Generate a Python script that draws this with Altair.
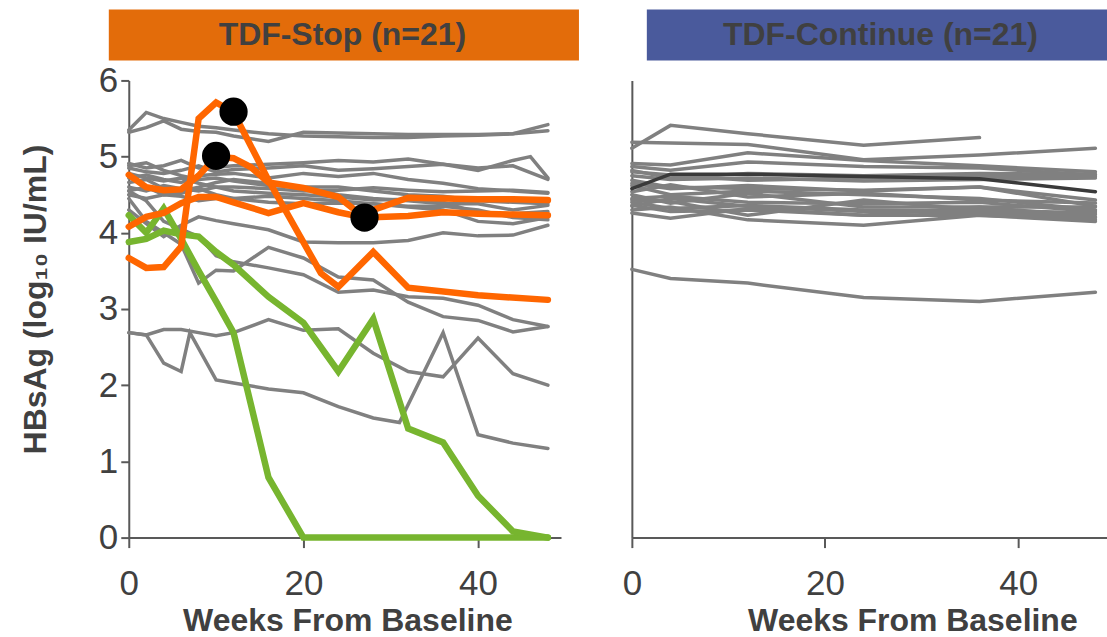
import altair as alt
import pandas as pd

FONT = "Liberation Sans"

# ---------------- data: TDF-Stop panel ----------------
W = [0, 2, 4, 6, 8, 10, 12, 16, 20, 24, 28, 32, 36, 40, 44, 48]
W_G3 = [0, 2, 4, 6, 8, 10, 12, 16, 20, 24, 28, 32, 36, 40, 44, 46, 48]
W_LA = [0, 2, 4, 6, 7, 10, 12, 16, 20, 24, 28, 31, 36, 40, 44, 48]

G1 = [5.35, 5.58, 5.50, 5.45, 5.40, 5.38, 5.35, 5.30, 5.27, 5.26, 5.25, 5.25, 5.27, 5.28, 5.30, 5.34]
G2 = [5.32, 5.38, 5.47, 5.36, 5.33, 5.32, 5.27, 5.20, 5.32, 5.31, 5.30, 5.29, 5.29, 5.29, 5.30, 5.42]
G3 = [4.91, 4.85, 4.88, 4.95, 4.85, 4.86, 4.88, 4.90, 4.92, 4.95, 4.93, 4.97, 4.90, 4.82, 4.95, 5.00, 4.72]
G4 = [4.85, 4.80, 4.78, 4.82, 4.88, 4.80, 4.83, 4.85, 4.88, 4.82, 4.84, 4.87, 4.90, 4.85, 4.88, 4.70]
G5 = [4.72, 4.76, 4.70, 4.66, 4.75, 4.77, 4.78, 4.72, 4.78, 4.74, 4.78, 4.70, 4.65, 4.58, 4.55, 4.52]
G6 = [4.60, 4.55, 4.62, 4.58, 4.55, 4.60, 4.60, 4.58, 4.55, 4.56, 4.59, 4.56, 4.54, 4.55, 4.56, 4.53]
G7 = [4.50, 4.45, 4.50, 4.48, 4.42, 4.45, 4.45, 4.40, 4.38, 4.39, 4.38, 4.34, 4.30, 4.15, 4.12, 4.20]
G8 = [4.66, 4.70, 4.58, 4.55, 4.60, 4.66, 4.70, 4.65, 4.60, 4.50, 4.45, 4.42, 4.38, 4.38, 4.30, 4.36]
G9 = [4.78, 4.72, 4.68, 4.72, 4.65, 4.60, 4.55, 4.52, 4.50, 4.47, 4.43, 4.44, 4.40, 4.26, 4.25, 4.28]
G10 = [4.55, 4.60, 4.50, 4.52, 4.58, 4.50, 4.45, 4.48, 4.45, 4.42, 4.38, 4.35, 4.35, 4.30, 4.20, 4.17]
G11 = [4.88, 4.92, 4.82, 4.75, 4.70, 4.72, 4.68, 4.62, 4.60, 4.60, 4.55, 4.50, 4.48, 4.42, 4.40, 4.38]
GP = [4.30, 4.12, 3.95, 4.10, 4.21, 4.16, 4.12, 4.04, 3.88, 3.87, 3.87, 3.90, 4.00, 3.96, 3.97, 4.10]
GQ = [4.45, 4.15, 4.00, 3.85, 3.34, 3.51, 3.50, 3.81, 3.67, 3.42, 3.38, 3.09, 2.90, 2.85, 2.70, 2.77]
GR = [4.55, 4.42, 4.15, 4.05, 3.95, 3.70, 3.62, 3.54, 3.45, 3.22, 3.25, 3.16, 3.14, 3.05, 2.86, 2.77]
GLA = [2.69, 2.66, 2.29, 2.18, 2.69, 2.07, 2.03, 1.95, 1.90, 1.72, 1.57, 1.51, 2.69, 1.35, 1.24, 1.17]
GLB = [2.69, 2.66, 2.73, 2.73, 2.69, 2.65, 2.69, 2.86, 2.72, 2.74, 2.42, 2.18, 2.11, 2.62, 2.15, 2.00]

W_O1 = [0, 2, 4, 6, 8, 10, 12, 16, 22, 24, 28, 32, 40, 48]
O1 = [3.67, 3.54, 3.55, 3.82, 5.50, 5.71, 5.58, 4.69, 3.47, 3.29, 3.75, 3.28, 3.18, 3.12]
W_O2 = [0, 2, 4, 6, 8, 10, 12, 14, 16, 20, 24, 27, 28, 32, 36, 40, 44, 48]
O2 = [4.76, 4.60, 4.56, 4.57, 4.75, 5.00, 4.98, 4.86, 4.66, 4.59, 4.47, 4.20, 4.30, 4.46, 4.45, 4.44, 4.44, 4.43]
W_O3 = [0, 2, 4, 6, 8, 10, 12, 16, 20, 24, 27, 32, 36, 40, 44, 48]
O3 = [4.08, 4.21, 4.26, 4.39, 4.47, 4.47, 4.40, 4.26, 4.39, 4.27, 4.20, 4.22, 4.27, 4.25, 4.24, 4.23]

GA = [4.23, 4.00, 4.32, 3.92, 3.50, 3.10, 2.69, 0.79, 0.00, 0.00, 0.00, 0.00, 0.00, 0.00, 0.00, 0.00]
GB = [3.88, 3.92, 4.03, 3.98, 3.95, 3.75, 3.58, 3.16, 2.82, 2.18, 2.87, 1.43, 1.25, 0.55, 0.08, 0.00]

DOT_WEEKS = [12, 10, 27]
DOT_VALUES = [5.59, 5.01, 4.20]

# ---------------- data: TDF-Continue panel ----------------
WC = [0, 4, 12, 24, 36, 48]
WC_R1 = [0, 4, 12, 24, 36]
R1 = [5.11, 5.41, 5.30, 5.15, 5.25]
R2 = [5.19, 5.18, 5.16, 4.96, 5.02, 5.11]
R3 = [4.91, 4.89, 5.05, 4.95, 4.88, 4.80]
R4 = [4.87, 4.82, 4.93, 4.87, 4.85, 4.76]
R5 = [4.80, 4.76, 4.69, 4.72, 4.74, 4.74]
R6 = [4.69, 4.60, 4.58, 4.56, 4.60, 4.43]
R7 = [4.54, 4.63, 4.47, 4.52, 4.43, 4.39]
R8 = [4.50, 4.39, 4.52, 4.34, 4.34, 4.34]
R9 = [4.43, 4.41, 4.23, 4.43, 4.30, 4.26]
R10 = [4.36, 4.28, 4.30, 4.23, 4.34, 4.21]
R11 = [4.26, 4.19, 4.32, 4.23, 4.23, 4.15]
R12 = [4.30, 4.34, 4.17, 4.10, 4.23, 4.17]
R13 = [3.52, 3.40, 3.34, 3.15, 3.10, 3.22]
R14 = [4.62, 4.50, 4.55, 4.50, 4.45, 4.30]
R15 = [4.75, 4.70, 4.72, 4.68, 4.70, 4.72]
R16 = [4.45, 4.48, 4.40, 4.38, 4.40, 4.28]
R17 = [4.82, 4.72, 4.78, 4.75, 4.78, 4.77]
R18 = [4.40, 4.32, 4.36, 4.30, 4.28, 4.24]
R19 = [4.65, 4.58, 4.62, 4.55, 4.60, 4.35]
R20 = [4.35, 4.45, 4.35, 4.28, 4.26, 4.20]
RDARK = [4.58, 4.77, 4.77, 4.74, 4.71, 4.54]

HEADERS = ["TDF-Stop (n=21)", "TDF-Continue (n=21)"]
Y_TITLE = "HBsAg (log\u2081\u2080 IU/mL)"
X_TITLE = "Weeks From Baseline"

# ---------------- build tables ----------------
def rows_for(sid, kind, weeks, vals):
    return [{"id": sid, "kind": kind, "week": w, "value": v} for w, v in zip(weeks, vals)]

stop_rows = []
for i, (wk, vs) in enumerate([(W, G1), (W, G2), (W_G3, G3), (W, G4), (W, G5), (W, G6), (W, G7),
                               (W, G8), (W, G9), (W, G10), (W, G11), (W, GP), (W, GQ), (W, GR),
                               (W_LA, GLA), (W, GLB)]):
    stop_rows += rows_for(f"g{i}", "grey", wk, vs)
stop_rows += rows_for("o1", "orange", W_O1, O1)
stop_rows += rows_for("o2", "orange", W_O2, O2)
stop_rows += rows_for("o3", "orange", W_O3, O3)
stop_rows += rows_for("ga", "green", W, GA)
stop_rows += rows_for("gb", "green", W, GB)
stop_df = pd.DataFrame(stop_rows)
dots_df = pd.DataFrame({"week": DOT_WEEKS, "value": DOT_VALUES})

cont_rows = []
for i, (wk, vs) in enumerate([(WC_R1, R1), (WC, R2), (WC, R3), (WC, R4), (WC, R5), (WC, R6),
                               (WC, R7), (WC, R8), (WC, R9), (WC, R10), (WC, R11), (WC, R12),
                               (WC, R13), (WC, R14), (WC, R15), (WC, R16), (WC, R17), (WC, R18),
                               (WC, R19), (WC, R20)]):
    cont_rows += rows_for(f"r{i}", "grey", wk, vs)
cont_rows += rows_for("rd", "dark", WC, RDARK)
cont_df = pd.DataFrame(cont_rows)

# ---------------- layout constants ----------------
LW, RW, H = 433, 476, 458
XMAX_L, XMAX_R = 49.5, 49.2
AX = "#595959"
TXT = "#404040"

def x_axis(title_x):
    return alt.Axis(values=[0, 20, 40], tickSize=10, tickWidth=2, tickColor=AX,
                    domainColor=AX, domainWidth=2, grid=False, labelFlush=False,
                    labelFont=FONT, labelFontSize=35, labelColor=TXT, labelPadding=19,
                    title=X_TITLE, titleFont=FONT, titleFontSize=32, titleFontWeight="bold",
                    titleColor=TXT, titleBaseline="alphabetic", titleY=93, titleX=title_x)

y_axis_left = alt.Axis(values=[0, 1, 2, 3, 4, 5, 6], tickSize=8, tickWidth=2, tickColor=AX,
                       domainColor=AX, domainWidth=2, grid=False, labelFlush=False,
                       labelFont=FONT, labelFontSize=35, labelColor=TXT, labelPadding=3,
                       title=Y_TITLE, titleFont=FONT, titleFontSize=32, titleFontWeight="bold",
                       titleColor=TXT, titleBaseline="alphabetic", titleX=-83, titleY=219,
                       titleAngle=270, titleAlign="center")
y_axis_right = alt.Axis(values=[0, 6], ticks=False, labels=False, domainColor=AX, domainWidth=2,
                        grid=False, title=None)

def enc_xy(xmax, xaxis, yaxis):
    return dict(
        x=alt.X("week:Q", scale=alt.Scale(domain=[0, xmax], nice=False, zero=False), axis=xaxis),
        y=alt.Y("value:Q", scale=alt.Scale(domain=[0, 6], nice=False), axis=yaxis),
    )

lx = x_axis(219)
ex_l = enc_xy(XMAX_L, lx, y_axis_left)

base_l = alt.Chart(stop_df)
grey_l = base_l.transform_filter("datum.kind == 'grey'").mark_line(
    color="#808080", strokeWidth=3.5, strokeCap="round").encode(detail="id:N", **ex_l)
green_l = base_l.transform_filter("datum.kind == 'green'").mark_line(
    color="#77B52F", strokeWidth=6.5, strokeCap="round").encode(detail="id:N", **ex_l)
orange_l = base_l.transform_filter("datum.kind == 'orange'").mark_line(
    color="#FF6600", strokeWidth=6.5, strokeCap="round").encode(detail="id:N", **ex_l)
dots = alt.Chart(dots_df).mark_circle(size=800, color="black", opacity=1).encode(**ex_l)

hdr_l_df = pd.DataFrame({"t": [HEADERS[0]]})
hdr_rect_l = alt.Chart(hdr_l_df).mark_rect(color="#E36C0A").encode(
    x=alt.value(-20), x2=alt.value(451), y=alt.value(-71), y2=alt.value(-20))
hdr_text_l = alt.Chart(hdr_l_df).mark_text(font=FONT, fontSize=32, fontWeight="bold",
                                           color=TXT, align="center", baseline="middle").encode(
    x=alt.value(214), y=alt.value(-45), text="t:N")

left = alt.layer(grey_l, green_l, orange_l, dots, hdr_rect_l, hdr_text_l).properties(
    width=LW, height=H)

rx = x_axis(281)
ex_r = enc_xy(XMAX_R, rx, y_axis_right)
base_r = alt.Chart(cont_df)
grey_r = base_r.transform_filter("datum.kind == 'grey'").mark_line(
    color="#808080", strokeWidth=3.5, strokeCap="round").encode(detail="id:N", **ex_r)
dark_r = base_r.transform_filter("datum.kind == 'dark'").mark_line(
    color="#3A3A3A", strokeWidth=3.5, strokeCap="round").encode(detail="id:N", **ex_r)

hdr_r_df = pd.DataFrame({"t": [HEADERS[1]]})
hdr_rect_r = alt.Chart(hdr_r_df).mark_rect(color="#4A5A9C").encode(
    x=alt.value(15), x2=alt.value(476), y=alt.value(-71), y2=alt.value(-20))
hdr_text_r = alt.Chart(hdr_r_df).mark_text(font=FONT, fontSize=32, fontWeight="bold",
                                           color=TXT, align="center", baseline="middle").encode(
    x=alt.value(249), y=alt.value(-45), text="t:N")

right = alt.layer(grey_r, dark_r, hdr_rect_r, hdr_text_r).properties(width=RW, height=H)

chart = alt.hconcat(left, right, spacing=71, bounds="flush").properties(
    padding={"left": 20, "top": 9, "right": 0, "bottom": 0},
    background="white",
).configure_view(stroke=None)

chart.save("out.html", embed_options={"renderer": "svg", "actions": False})
